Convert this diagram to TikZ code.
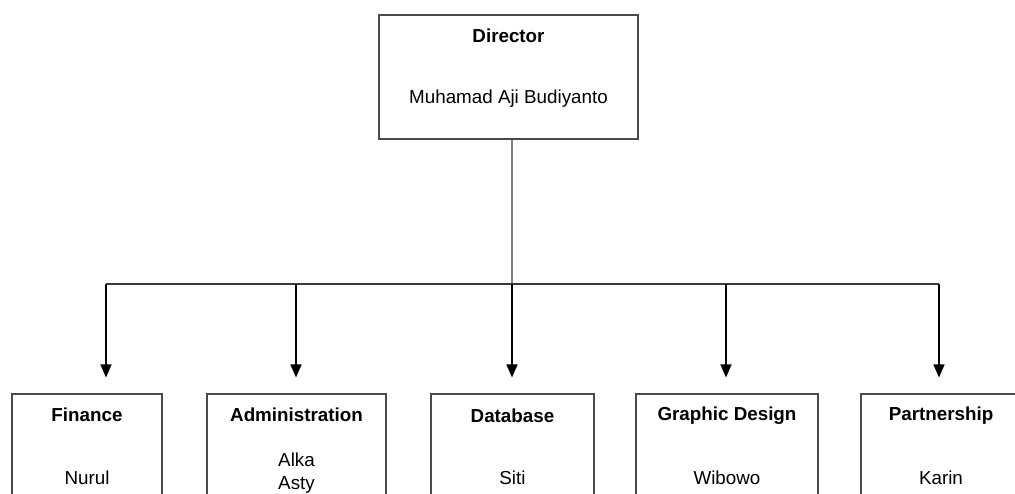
\documentclass[tikz,border=0pt]{standalone}
\usepackage{fontspec}
\setmainfont{Liberation Sans}
\usetikzlibrary{arrows.meta}
\definecolor{boxline}{HTML}{4A4A4A}
\definecolor{stemline}{HTML}{808080}
\definecolor{busline}{HTML}{3A3A3A}
\tikzset{
  orgbox/.style={draw=boxline, line width=1.1pt, rectangle, inner sep=0pt},
  headtxt/.style={font=\fontsize{18.8}{22}\selectfont\bfseries, inner sep=0pt, anchor=center},
  nametxt/.style={font=\fontsize{18.8}{22}\selectfont, inner sep=0pt, anchor=center, align=center},
  feed/.style={draw=black, line width=1.5pt, -{Triangle[width=11pt,length=13pt]}, shorten >=16pt},
}
\begin{document}
\begin{tikzpicture}[x=1pt,y=-1pt]
\useasboundingbox (0,0) rectangle (1015,493);
\clip (0,0) rectangle (1015,493);
\fill[white] (0,0) rectangle (1015,493);
% boxes
\node[orgbox, minimum width=259pt, minimum height=124pt] (dir) at (508.5,77) {};
\node[orgbox, minimum width=150pt, minimum height=130pt] (fin) at (87,459) {};
\node[orgbox, minimum width=179pt, minimum height=130pt] (adm) at (296.5,459) {};
\node[orgbox, minimum width=163pt, minimum height=130pt] (dat) at (512.5,459) {};
\node[orgbox, minimum width=182pt, minimum height=130pt] (gra) at (727,459) {};
\node[orgbox, minimum width=160pt, minimum height=130pt] (par) at (941,459) {};
% texts
\node[headtxt] (dir-h) at (508.5,36) {Director};
\node[nametxt] (dir-n) at (508.5,99) {Muhamad Aji Budiyanto};
\node[headtxt] (fin-h) at (87,415) {Finance};
\node[nametxt] (fin-n) at (87,478) {Nurul};
\node[headtxt] (adm-h) at (296.5,415) {Administration};
\node[nametxt] (adm-n1) at (296.5,460) {Alka};
\node[nametxt] (adm-n2) at (296.5,485) {Asty};
\node[headtxt] (dat-h) at (512.5,416) {Database};
\node[nametxt] (dat-n) at (512.5,478) {Siti};
\node[headtxt] (gra-h) at (727,416) {Graphic Design};
\node[nametxt] (gra-n) at (727,478) {Wibowo};
\node[headtxt] (par-h) at (941,416) {Partnership};
\node[nametxt] (par-n) at (941,478) {Karin};
% bus coordinates
\coordinate (b-fin) at (106,284);
\coordinate (b-adm) at (296,284);
\coordinate (b-dat) at (512,284);
\coordinate (b-gra) at (726,284);
\coordinate (b-par) at (939,284);
% stem and bus
\draw[stemline, line width=1.1pt] (dir.south -| b-dat) -- (b-dat);
\draw[busline, line width=1.2pt] (b-fin) -- (b-par);
% arrows
\draw[feed] (b-fin) -- (b-fin |- fin.north);
\draw[feed] (b-adm) -- (b-adm |- adm.north);
\draw[feed] (b-dat) -- (b-dat |- dat.north);
\draw[feed] (b-gra) -- (b-gra |- gra.north);
\draw[feed] (b-par) -- (b-par |- par.north);
\end{tikzpicture}
\end{document}
